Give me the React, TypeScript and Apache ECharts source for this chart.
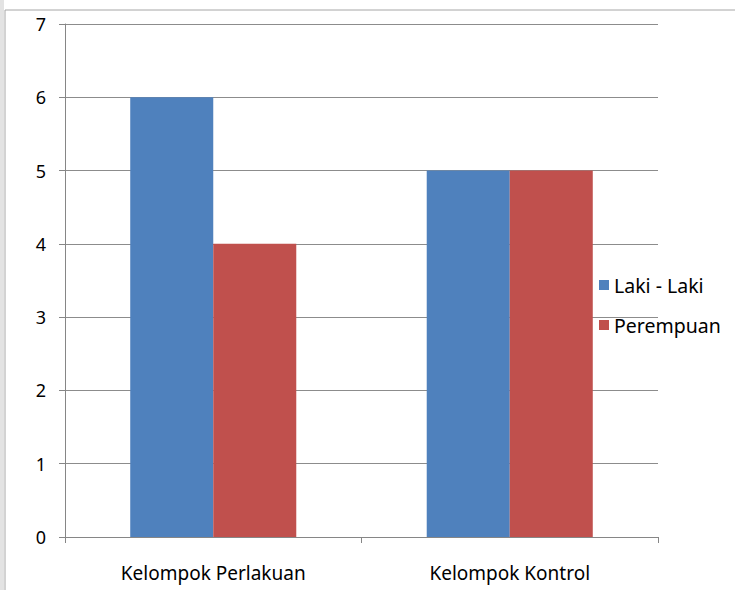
import React, { useEffect, useRef } from "react";
import * as echarts from "echarts";

const categories = ["Kelompok Perlakuan", "Kelompok Kontrol"];
const seriesNames = ["Laki - Laki", "Perempuan"];
const lakiLaki = [6, 5];
const perempuan = [4, 5];
const colors = ["#4F81BD", "#C0504D"];

export default function App() {
  const ref = useRef<HTMLDivElement>(null);
  useEffect(() => {
    if (!ref.current) return;
    const chart = echarts.init(ref.current, null, { renderer: "svg" });
    const font = "Noto Sans";
    chart.setOption({
      animation: false,
      backgroundColor: "#ffffff",
      textStyle: { fontFamily: font },
      graphic: [
        { type: "rect", shape: { x: 0, y: 0, width: 4, height: 590 }, style: { fill: "#e3e3e3" } },
        { type: "line", shape: { x1: 5, y1: 10, x2: 5, y2: 590 }, style: { stroke: "#a6a6a6", lineWidth: 1 } },
        { type: "line", shape: { x1: 5, y1: 10, x2: 735, y2: 10 }, style: { stroke: "#a6a6a6", lineWidth: 1 } },
      ],
      grid: { left: 65, right: 77, top: 24, bottom: 53, containLabel: false },
      legend: {
        orient: "vertical",
        left: 594,
        top: 270,
        itemWidth: 10,
        itemHeight: 10,
        itemGap: 20,
        icon: "rect",
        data: seriesNames,
        textStyle: { fontFamily: font, fontSize: 19.5, lineHeight: 20, color: "#000" },
      },
      xAxis: {
        type: "category",
        data: categories,
        axisLine: { lineStyle: { color: "#868686" } },
        axisTick: { show: true, length: 6, lineStyle: { color: "#868686" } },
        axisLabel: { fontFamily: font, fontSize: 19, color: "#000", margin: 26 },
      },
      yAxis: {
        type: "value",
        min: 0,
        max: 7,
        interval: 1,
        axisLine: { show: true, lineStyle: { color: "#868686" } },
        axisTick: { show: true, length: 6, lineStyle: { color: "#868686" } },
        splitLine: { lineStyle: { color: "#8c8c8c", width: 1 } },
        axisLabel: { fontFamily: font, fontSize: 18, color: "#000", margin: 19 },
      },
      series: [
        {
          name: seriesNames[0],
          type: "bar",
          data: lakiLaki,
          itemStyle: { color: colors[0] },
          barGap: "0%",
          barCategoryGap: "44%",
        },
        {
          name: seriesNames[1],
          type: "bar",
          data: perempuan,
          itemStyle: { color: colors[1] },
          barGap: "0%",
          barCategoryGap: "44%",
        },
      ],
    });
    return () => chart.dispose();
  }, []);
  return (
    <div
      ref={ref}
      style={{ position: "fixed", left: 0, top: 0, width: 735, height: 590 }}
    />
  );
}
